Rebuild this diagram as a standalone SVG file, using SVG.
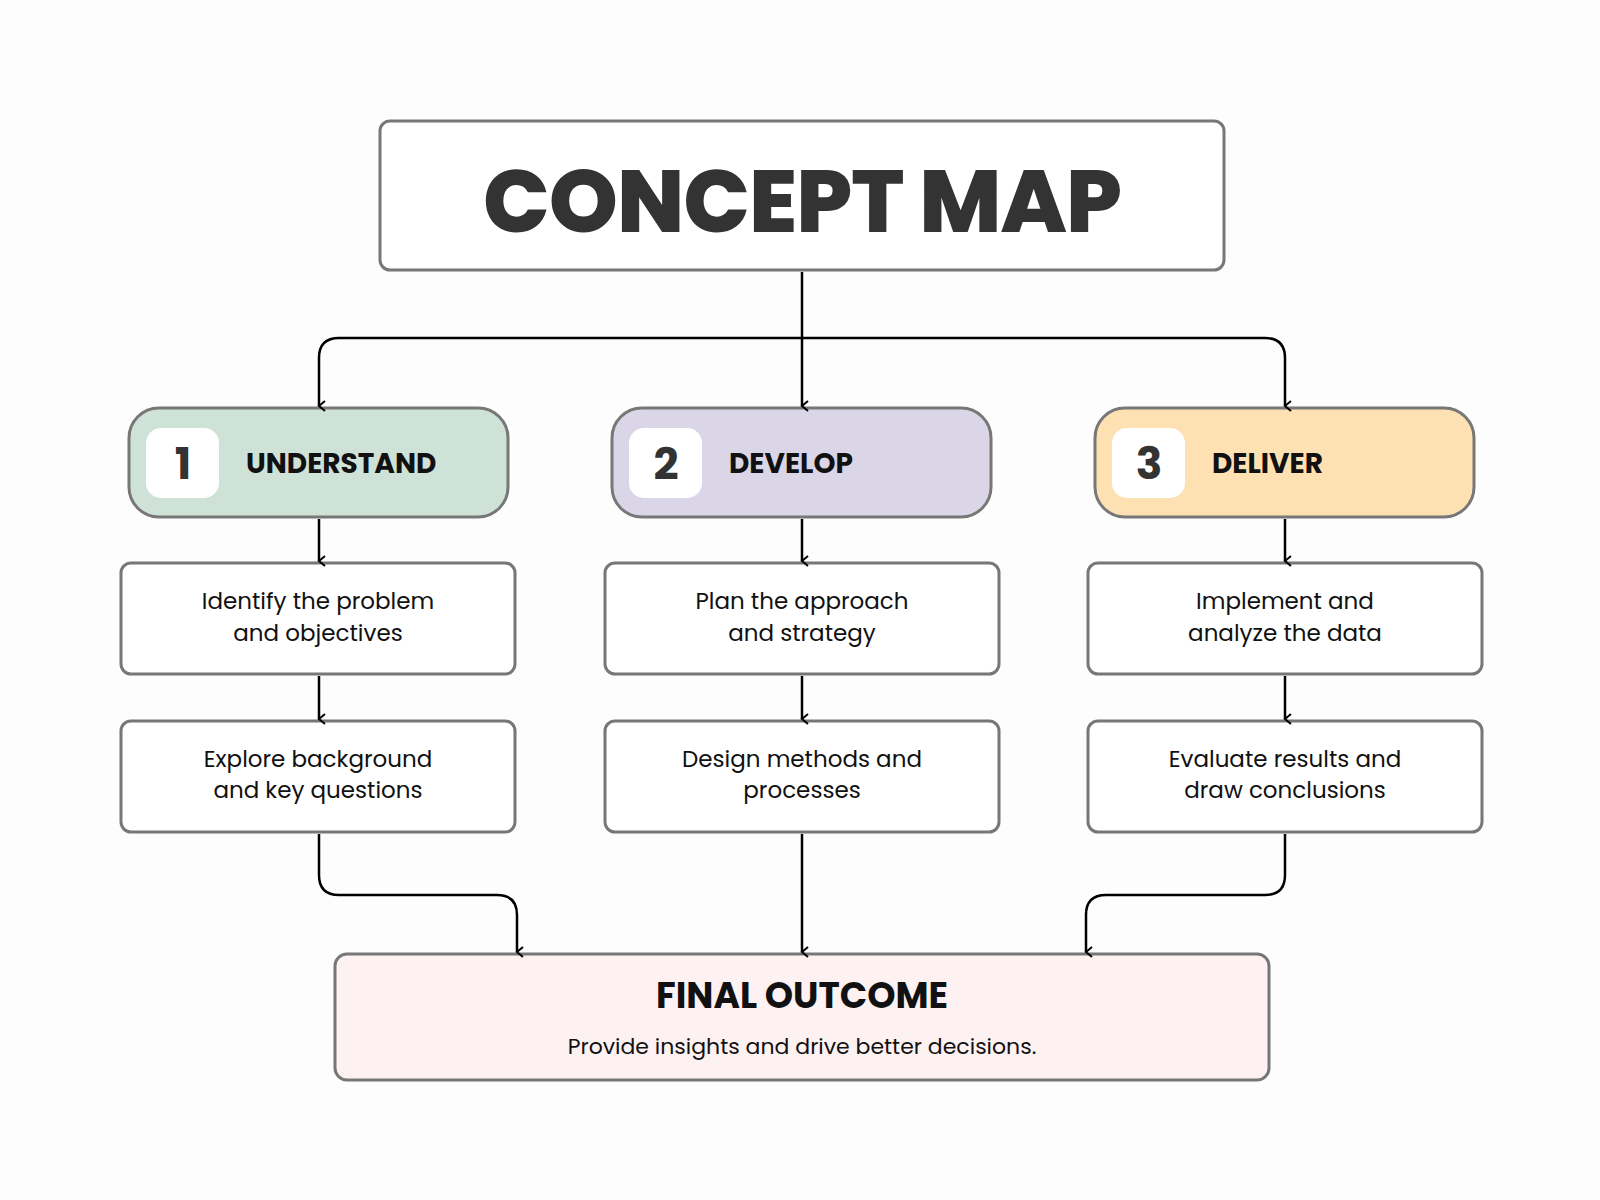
<svg xmlns="http://www.w3.org/2000/svg" width="1600" height="1200" viewBox="0 0 1600 1200">
<defs>
<marker id="ah" viewBox="0 0 12 12" refX="6" refY="10" markerWidth="12" markerHeight="12" markerUnits="userSpaceOnUse" orient="auto-start-reverse">
<path d="M1,4 L6,10 L11,4" fill="none" stroke="#000" stroke-width="2"/>
</marker>
<style>
text{font-family:Poppins,"Open Sans","Liberation Sans",sans-serif;text-anchor:middle}
.box{stroke:#777;stroke-width:3}
.c{fill:none;stroke:#000;stroke-width:2.5;marker-end:url(#ah)}
.hd{font-size:28px;font-weight:700;fill:#111;text-anchor:start}
.num{font-size:44px;font-weight:700;fill:#333}
.t{font-size:23px;fill:#111}
</style>
</defs>
<rect width="1600" height="1200" fill="#fdfdfd"/>
<g id="title"><rect class="box" x="380" y="121" width="844" height="149" rx="10" fill="#fff"/>
<text x="802" y="232" font-size="88" font-weight="800" fill="#333" letter-spacing="-1">CONCEPT MAP</text></g>
<g id="h1"><rect class="box" x="129" y="408" width="379" height="109" rx="30" fill="#cfe2d8"/><rect x="146" y="428" width="73" height="70" rx="15" fill="#fff"/><text class="num" x="183" y="479">1</text><text class="hd" x="246" y="473">UNDERSTAND</text></g>
<g id="h2"><rect class="box" x="612" y="408" width="379" height="109" rx="30" fill="#dad6e8"/><rect x="629" y="428" width="73" height="70" rx="15" fill="#fff"/><text class="num" x="666" y="479">2</text><text class="hd" x="729" y="473">DEVELOP</text></g>
<g id="h3"><rect class="box" x="1095" y="408" width="379" height="109" rx="30" fill="#fde1b2"/><rect x="1112" y="428" width="73" height="70" rx="15" fill="#fff"/><text class="num" x="1149" y="479">3</text><text class="hd" x="1212" y="473">DELIVER</text></g>
<g id="a1"><rect class="box" x="121" y="563" width="394" height="111" rx="10" fill="#fff"/><text class="t" x="318" y="609">Identify the problem</text><text class="t" x="318" y="641">and objectives</text></g>
<g id="a2"><rect class="box" x="605" y="563" width="394" height="111" rx="10" fill="#fff"/><text class="t" x="802" y="609">Plan the approach</text><text class="t" x="802" y="641">and strategy</text></g>
<g id="a3"><rect class="box" x="1088" y="563" width="394" height="111" rx="10" fill="#fff"/><text class="t" x="1285" y="609">Implement and</text><text class="t" x="1285" y="641">analyze the data</text></g>
<g id="b1"><rect class="box" x="121" y="721" width="394" height="111" rx="10" fill="#fff"/><text class="t" x="318" y="767">Explore background</text><text class="t" x="318" y="798">and key questions</text></g>
<g id="b2"><rect class="box" x="605" y="721" width="394" height="111" rx="10" fill="#fff"/><text class="t" x="802" y="767">Design methods and</text><text class="t" x="802" y="798">processes</text></g>
<g id="b3"><rect class="box" x="1088" y="721" width="394" height="111" rx="10" fill="#fff"/><text class="t" x="1285" y="767">Evaluate results and</text><text class="t" x="1285" y="798">draw conclusions</text></g>
<g id="final"><rect class="box" x="335" y="954" width="934" height="126" rx="12" fill="#fdf1f1"/><text x="802" y="1008" font-size="36" font-weight="700" fill="#111">FINAL OUTCOME</text><text x="802" y="1054" font-size="22" fill="#111">Provide insights and drive better decisions.</text></g>
<g id="connectors">
<path class="c" d="M802,272 V406"/>
<path class="c" d="M802,338 H339 Q319,338 319,358 V406"/>
<path class="c" d="M802,338 H1265 Q1285,338 1285,358 V406"/>
<path class="c" d="M319,519 V561"/><path class="c" d="M802,519 V561"/><path class="c" d="M1285,519 V561"/>
<path class="c" d="M319,676 V719"/><path class="c" d="M802,676 V719"/><path class="c" d="M1285,676 V719"/>
<path class="c" d="M319,834 V875 Q319,895 339,895 H497 Q517,895 517,915 V952"/>
<path class="c" d="M802,834 V952"/>
<path class="c" d="M1285,834 V875 Q1285,895 1265,895 H1106 Q1086,895 1086,915 V952"/>
</g>
</svg>
